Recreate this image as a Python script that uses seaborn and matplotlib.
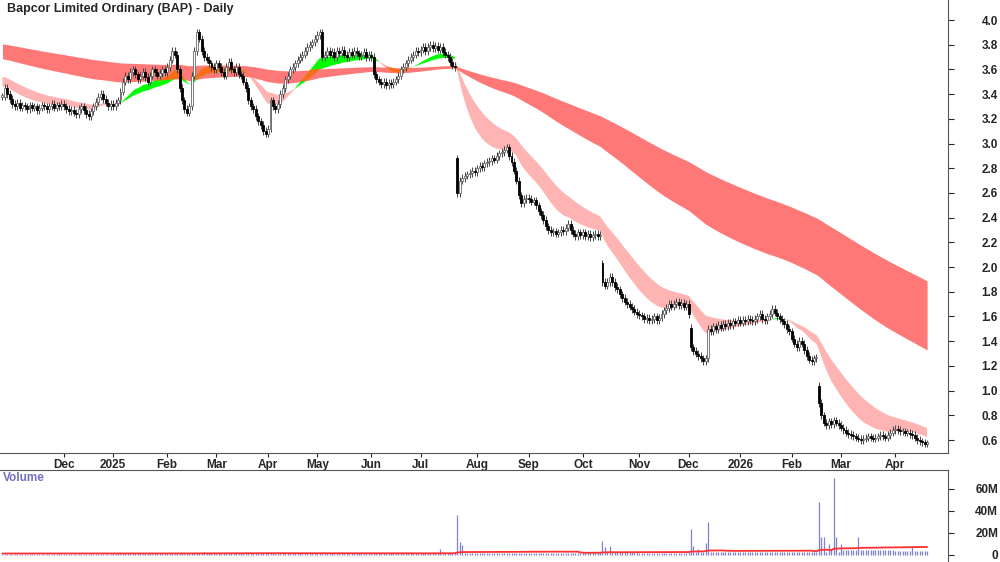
import numpy as np
import pandas as pd
import matplotlib
matplotlib.use("Agg")
import matplotlib.pyplot as plt
import seaborn as sns

## data (daily closes, one list per month)
month_labels = ["", "", "Dec", "2025", "Feb", "Mar", "Apr", "May", "Jun", "Jul", "Aug", "Sep",
                "Oct", "Nov", "Dec", "2026", "Feb", "Mar", "Apr"]
oct24 = [3.38, 3.45, 3.40, 3.36]
nov24 = [3.32, 3.30, 3.33, 3.29, 3.31, 3.30, 3.28, 3.31, 3.29, 3.30, 3.27, 3.29, 3.31, 3.30, 3.28,
         3.30, 3.32, 3.29, 3.31, 3.30, 3.32]
dec24 = [3.30, 3.28, 3.26, 3.27, 3.25, 3.24, 3.28, 3.30, 3.27, 3.24, 3.22, 3.26, 3.30, 3.34, 3.38,
         3.40, 3.36, 3.33, 3.30, 3.32]
jan25 = [3.30, 3.33, 3.35, 3.42, 3.50, 3.55, 3.52, 3.58, 3.60, 3.56, 3.52, 3.55, 3.58, 3.54, 3.50,
         3.55, 3.60, 3.58, 3.55, 3.57, 3.60, 3.58]
feb25 = [3.62, 3.68, 3.75, 3.72, 3.60, 3.45, 3.35, 3.28, 3.25, 3.30, 3.55, 3.75, 3.90, 3.85, 3.75,
         3.70, 3.68, 3.65, 3.62, 3.60]
mar25 = [3.65, 3.62, 3.58, 3.55, 3.62, 3.66, 3.60, 3.58, 3.62, 3.56, 3.55, 3.50, 3.45, 3.35, 3.30,
         3.28, 3.22, 3.18, 3.15, 3.10, 3.08]
apr25 = [3.12, 3.35, 3.30, 3.28, 3.32, 3.40, 3.45, 3.52, 3.55, 3.60, 3.62, 3.65, 3.68, 3.70, 3.72,
         3.75, 3.78, 3.80, 3.82, 3.85]
may25 = [3.88, 3.90, 3.70, 3.72, 3.75, 3.72, 3.74, 3.70, 3.75, 3.73, 3.76, 3.72, 3.70, 3.74, 3.72,
         3.75, 3.73, 3.71, 3.72, 3.74, 3.70, 3.72]
jun25 = [3.70, 3.56, 3.52, 3.50, 3.48, 3.50, 3.47, 3.49, 3.48, 3.50, 3.52, 3.55, 3.60, 3.62, 3.65,
         3.68, 3.70, 3.72, 3.75, 3.74]
jul25 = [3.76, 3.78, 3.75, 3.78, 3.80, 3.77, 3.79, 3.76, 3.78, 3.74, 3.72, 3.70, 3.66, 3.63, 3.62,
         2.60, 2.70, 2.72, 2.74, 2.75, 2.76, 2.78, 2.77]
aug25 = [2.80, 2.82, 2.81, 2.84, 2.85, 2.86, 2.88, 2.87, 2.90, 2.92, 2.93, 2.95, 2.97, 2.90, 2.85,
         2.78, 2.70, 2.58, 2.52, 2.55, 2.56]
sep25 = [2.55, 2.53, 2.54, 2.50, 2.45, 2.42, 2.38, 2.33, 2.30, 2.28, 2.29, 2.27, 2.28, 2.30, 2.29,
         2.32, 2.35, 2.30, 2.27, 2.25, 2.28, 2.26]
oct25 = [2.28, 2.25, 2.27, 2.24, 2.26, 2.27, 2.25, 2.26, 1.88, 1.85, 1.88, 1.92, 1.88, 1.84, 1.82,
         1.78, 1.75, 1.72, 1.70, 1.68, 1.66, 1.64, 1.62]
nov25 = [1.61, 1.60, 1.58, 1.59, 1.57, 1.58, 1.60, 1.57, 1.59, 1.62, 1.65, 1.67, 1.70, 1.68, 1.70,
         1.72, 1.69, 1.71, 1.68, 1.70]
dec25 = [1.62, 1.35, 1.32, 1.30, 1.28, 1.26, 1.24, 1.26, 1.50, 1.48, 1.52, 1.50, 1.53, 1.51, 1.54,
         1.52, 1.55, 1.53, 1.56, 1.55, 1.57]
jan26 = [1.55, 1.57, 1.56, 1.58, 1.57, 1.56, 1.58, 1.60, 1.62, 1.58, 1.57, 1.60, 1.62, 1.66, 1.63,
         1.60, 1.58, 1.56, 1.54, 1.50, 1.48]
feb26 = [1.42, 1.38, 1.35, 1.40, 1.38, 1.33, 1.28, 1.25, 1.24, 1.26, 1.27, 0.90, 0.80, 0.74, 0.72,
         0.75, 0.73, 0.76, 0.74, 0.72]
mar26 = [0.70, 0.68, 0.66, 0.65, 0.64, 0.63, 0.62, 0.61, 0.60, 0.61, 0.62, 0.63, 0.62, 0.61, 0.62,
         0.63, 0.64, 0.63, 0.62, 0.64, 0.66, 0.68]
apr26 = [0.69, 0.68, 0.67, 0.67, 0.66, 0.66, 0.65, 0.64, 0.62, 0.60, 0.59, 0.58, 0.57, 0.57]
months = [oct24, nov24, dec24, jan25, feb25, mar25, apr25, may25, jun25, jul25, aug25, sep25,
          oct25, nov25, dec25, jan26, feb26, mar26, apr26]

# opens on the gap days (day index -> open)
gap_opens = {185: 2.88, 244: 2.03, 280: 1.51, 287: 1.26, 332: 1.04}

# volume in millions: base level per month plus the spikes
vol_base = [1.2, 1.2, 1.1, 1.3, 1.6, 1.4, 1.5, 1.4, 1.3, 1.5, 2.0, 1.8, 2.2, 2.0, 2.8, 2.2, 2.6, 4.0, 3.5]
vol_spikes = {82: 3, 178: 5, 185: 36, 186: 12, 187: 9, 244: 13, 245: 7, 247: 8, 280: 23, 281: 8,
              283: 5, 286: 11, 287: 30, 332: 48, 333: 16, 334: 16, 336: 10, 337: 5, 338: 70,
              339: 16, 341: 10, 348: 16, 370: 7}

# ribbon periods (days) and their starting levels
short_spans = [18, 21, 24, 27, 30, 35]
short_seed = [3.47, 3.48, 3.50, 3.52, 3.53, 3.55]
long_spans = [140, 160, 180, 200, 225, 260]
long_seed = [3.69, 3.71, 3.74, 3.76, 3.78, 3.81]

## build frame
close = np.array([c for m in months for c in m])
n = len(close)
idx = np.arange(n)
month_start = np.cumsum([0] + [len(m) for m in months[:-1]])
opens = np.r_[close[0], close[:-1]]
for k, v in gap_opens.items():
    opens[k] = v
vol = np.concatenate([[b] * len(m) for b, m in zip(vol_base, months)])
for k, v in vol_spikes.items():
    vol[k] = v
df = pd.DataFrame({"day": idx, "open": opens, "close": close, "vol": vol})
df["vol_ma"] = df["vol"].rolling(50, min_periods=1).mean()


def ema(series, span, seed):
    a = 2.0 / (span + 1)
    out = np.empty(len(series))
    prev = seed
    for i, x in enumerate(series):
        prev = prev + a * (x - prev)
        out[i] = prev
    return out


short = np.array([ema(close, s, z) for s, z in zip(short_spans, short_seed)])
long_ = np.array([ema(close, s, z) for s, z in zip(long_spans, long_seed)])
s_lo, s_hi = short.min(0), short.max(0)
l_lo, l_hi = long_.min(0), long_.max(0)

## plot
sns.set_style("white")
plt.rcParams["font.family"] = ["Liberation Sans", "DejaVu Sans"]
fig = plt.figure(figsize=(10, 5.62), dpi=100)
ax = fig.add_axes([0.0, 1 - 453 / 562, 0.948, 453 / 562])
axv = fig.add_axes([0.0, 0.0, 0.948, 92 / 562])
xlim = (-1.0, 384.5)

red, pink, green, orange = "#ff7878", "#ffb4b4", "#00ff00", "#ff6a1a"
bear_long = long_[0] < long_[-1]
ax.fill_between(idx, l_lo, l_hi, where=bear_long, color=red, lw=0, interpolate=True)
ax.fill_between(idx, l_lo, l_hi, where=~bear_long, color=orange, lw=0, interpolate=True)
up_short = short[0] > short[-1]
ax.fill_between(idx, s_lo, s_hi, where=up_short, color=green, lw=0, interpolate=True)
ax.fill_between(idx, s_lo, s_hi, where=~up_short, color=pink, lw=0, interpolate=True)
ov_lo, ov_hi = np.maximum(s_lo, l_lo), np.minimum(s_hi, l_hi)
ax.fill_between(idx, ov_lo, ov_hi, where=ov_hi > ov_lo, color=orange, lw=0, interpolate=True)

# candles
hi = np.maximum(df["open"], df["close"]) + 0.03
lo = np.minimum(df["open"], df["close"]) - 0.03
ax.vlines(idx, lo, hi, color="#444444", lw=0.7, zorder=3)
up = df["close"] >= df["open"]
body = (df["close"] - df["open"]).abs().clip(lower=0.01)
ax.bar(idx[up], body[up], bottom=df["open"][up], width=0.8, color="white", edgecolor="#666666",
       lw=0.6, zorder=4)
ax.bar(idx[~up], body[~up], bottom=df["close"][~up], width=0.8, color="black", edgecolor="black",
       lw=0.6, zorder=4)

ax.set_xlim(*xlim)
ax.set_ylim(0.495, 4.162)
ax.yaxis.tick_right()
yt = np.arange(0.6, 4.01, 0.2)
ax.set_yticks(yt)
ax.set_yticklabels([f"{t:.1f}" for t in yt], ha="right")
ax.set_xticks(month_start[2:])
ax.set_xticklabels(month_labels[2:])
ax.tick_params(axis="y", right=True, length=4, pad=32, labelsize=8.5)
ax.tick_params(axis="x", bottom=True, length=3, pad=1, labelsize=8.5)
for lab in ax.get_xticklabels() + ax.get_yticklabels():
    lab.set_fontweight("bold")
for sp in ["top", "left"]:
    ax.spines[sp].set_visible(False)
ax.spines["right"].set_color("#555555")
ax.spines["bottom"].set_color("#555555")
ax.text(2, 4.14, "Bapcor Limited Ordinary (BAP) - Daily", fontsize=9, fontweight="bold", va="top")

# volume
axv.vlines(idx, 0, df["vol"], color="#8080d0", lw=0.9)
sns.lineplot(data=df, x="day", y="vol_ma", ax=axv, color="#ff3030", lw=1.3)
axv.set_xlim(*xlim)
axv.set_ylim(-6.5, 77.0)
axv.yaxis.tick_right()
axv.set_yticks([0, 20, 40, 60])
axv.set_yticklabels(["0", "20M", "40M", "60M"], ha="right")
axv.tick_params(axis="y", right=True, length=4, pad=32, labelsize=8.5)
for lab in axv.get_yticklabels():
    lab.set_fontweight("bold")
axv.set_xticks([])
axv.set_xlabel("")
axv.set_ylabel("")
for sp in ["bottom", "left"]:
    axv.spines[sp].set_visible(False)
axv.spines["top"].set_color("#555555")
axv.spines["right"].set_color("#555555")
axv.text(0, 75, "Volume", color="#7070c0", fontsize=8.5, fontweight="bold", va="top")

fig.savefig("out.png", dpi=100)
